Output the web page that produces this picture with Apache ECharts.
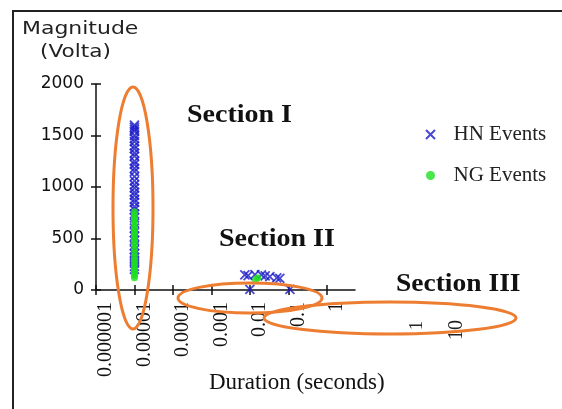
<!DOCTYPE html>
<html>
<head>
<meta charset="utf-8">
<script src="https://cdn.jsdelivr.net/npm/echarts@6/dist/echarts.min.js"></script>
<style>
html,body{margin:0;padding:0;background:#fff;}
#chart{width:562px;height:409px;}
</style>
</head>
<body>
<div id="chart"></div>
<script>
// ---- data (durations in seconds, magnitudes in volts) ----
const xTickValues = [0.000001, 0.00001, 0.0001, 0.001, 0.01, 0.1, 1];
const xTickLabels = ['0.000001', '0.00001', '0.0001', '0.001', '0.01', '0.1', '1'];
const strayTickLabels = ['1', '10'];
const yTicks = [0, 500, 1000, 1500, 2000];

const hnDuration = [
  0.00001,0.00001,0.00001,0.00001,0.00001,0.00001,0.00001,0.00001,0.00001,0.00001,
  0.00001,0.00001,0.00001,0.00001,0.00001,0.00001,0.00001,0.00001,0.00001,0.00001,
  0.00001,0.00001,0.00001,0.00001,0.00001,0.00001,0.00001,0.00001,0.00001,0.00001,
  0.00001,0.00001,0.00001,0.00001,0.00001,0.00001,0.00001,0.00001,0.00001,0.00001,
  0.0074,0.009,0.0135,0.02,0.025,0.033,0.05,0.06,0.01,0.11
];
const hnMagnitude = [
  1600,1580,1560,1540,1500,1470,1440,1400,1370,1330,
  1300,1250,1220,1180,1150,1100,1060,1020,990,950,
  920,880,850,810,780,740,700,650,600,560,
  520,480,430,390,350,320,290,260,230,200,
  146,140,150,146,138,130,118,112,5,5
];
const ngDuration = [
  0.00001,0.00001,0.00001,0.00001,0.00001,0.00001,0.00001,0.00001,0.00001,0.00001,
  0.00001,0.00001,0.00001,0.00001,0.00001,0.00001,0.00001,0.00001,0.00001,0.00001,
  0.00001,0.00001,0.00001,
  0.016,0.014
];
const ngMagnitude = [
  760,730,700,680,650,620,590,560,530,500,
  470,440,400,360,320,290,260,230,200,180,
  160,140,120,
  118,100
];
const seriesNames = ['HN Events', 'NG Events'];
const sectionLabels = ['Section I', 'Section II', 'Section III'];

const hnData = hnDuration.map((d, i) => [d, hnMagnitude[i]]);
const ngData = ngDuration.map((d, i) => [d, ngMagnitude[i]]);

const chart = echarts.init(document.getElementById('chart'), null, {renderer: 'canvas'});

const orange = '#ED7D31';
const serif = '"Liberation Serif", "Times New Roman", serif';
const sans = '"DejaVu Sans", Verdana, sans-serif';

const xAxisBase = {
  type: 'log', logBase: 10, min: 0.000001, max: 5.4,
  splitLine: {show: false}, minorTick: {show: false}
};
const yAxisBase = {
  type: 'value', min: 0, max: 2000, interval: 500, splitLine: {show: false}
};

chart.setOption({
  backgroundColor: '#ffffff',
  animation: false,
  grid: {left: 96, right: 207, top: 84, bottom: 119, containLabel: false},
  xAxis: [
    Object.assign({}, xAxisBase, {
      position: 'bottom',
      axisLine: {show: true, lineStyle: {color: '#111', width: 1.5}},
      axisTick: {show: true, inside: false, length: 5, customValues: xTickValues, lineStyle: {color: '#111', width: 1.5}},
      axisLabel: {
        show: true, rotate: 90, margin: 12, verticalAlign: 'top',
        customValues: xTickValues,
        formatter: (v) => {
          const i = xTickValues.findIndex(t => Math.abs(Math.log10(t) - Math.log10(v)) < 1e-6);
          return i >= 0 ? xTickLabels[i] : '';
        },
        fontFamily: serif, fontSize: 20, color: '#111'
      }
    }),
    Object.assign({}, xAxisBase, {
      position: 'bottom', offset: 0,
      axisLine: {show: false},
      axisTick: {show: true, inside: true, length: 5, customValues: xTickValues, lineStyle: {color: '#111', width: 1.5}},
      axisLabel: {show: false}
    })
  ],
  yAxis: [
    Object.assign({}, yAxisBase, {
      position: 'left',
      axisLine: {show: true, lineStyle: {color: '#111', width: 1.5}},
      axisTick: {show: true, inside: false, length: 5, lineStyle: {color: '#111', width: 1.5}},
      axisLabel: {margin: 12, fontFamily: sans, fontSize: 17, color: '#111',
        formatter: (v) => yTicks.includes(v) ? String(v) : ''}
    }),
    Object.assign({}, yAxisBase, {
      position: 'left', offset: 0,
      axisLine: {show: false},
      axisTick: {show: true, inside: true, length: 5, lineStyle: {color: '#111', width: 1.5}},
      axisLabel: {show: false}
    })
  ],
  legend: {
    orient: 'vertical', left: 420, top: 119, itemGap: 20, itemWidth: 36, itemHeight: 9,
    textStyle: {fontFamily: serif, fontSize: 21, color: '#222'},
    data: seriesNames
  },
  series: [
    {
      name: seriesNames[0], type: 'scatter', data: hnData,
      symbol: 'path://M0,0L10,10M10,0L0,10', symbolSize: 9,
      itemStyle: {color: 'rgba(0,0,0,0)', borderColor: '#1a1ac8', borderWidth: 1.8},
      z: 3
    },
    {
      name: seriesNames[1], type: 'scatter', data: ngData,
      symbol: 'circle', symbolSize: 7,
      itemStyle: {color: '#1ee01e'},
      z: 4
    }
  ],
  graphic: [
    {type: 'rect', shape: {x: 13, y: 11, width: 600, height: 450}, style: {fill: 'none', stroke: '#222', lineWidth: 2}, z: 0, silent: true},
    {type: 'text', left: 22, top: 20, scaleX: 1.22, style: {text: 'Magnitude', font: '18px ' + sans, fill: '#222'}, z: 10},
    {type: 'text', left: 40, top: 43, scaleX: 1.2, style: {text: '(Volta)', font: '18px ' + sans, fill: '#222'}, z: 10},
    {type: 'text', left: 187, top: 103, scaleX: 1.12, style: {text: sectionLabels[0], font: 'bold 25px ' + serif, fill: '#111'}, z: 10},
    {type: 'text', left: 219, top: 227, scaleX: 1.12, style: {text: sectionLabels[1], font: 'bold 25px ' + serif, fill: '#111'}, z: 10},
    {type: 'text', left: 396, top: 272, scaleX: 1.1, style: {text: sectionLabels[2], font: 'bold 25px ' + serif, fill: '#111'}, z: 10},
    {type: 'text', left: 209, top: 371, style: {text: 'Duration (seconds)', font: '23px ' + serif, fill: '#111'}, z: 10},
    {type: 'text', x: 408, y: 330, rotation: Math.PI / 2, style: {text: strayTickLabels[0], font: '18px ' + serif, fill: '#222', align: 'left', verticalAlign: 'top'}, z: 10},
    {type: 'text', x: 447, y: 340, rotation: Math.PI / 2, style: {text: strayTickLabels[1], font: '20px ' + serif, fill: '#222', align: 'left', verticalAlign: 'top'}, z: 10},
    {type: 'ellipse', shape: {cx: 133, cy: 208, rx: 20, ry: 121}, style: {fill: 'none', stroke: orange, lineWidth: 3}, z: 20},
    {type: 'ellipse', shape: {cx: 250, cy: 298, rx: 72, ry: 15}, style: {fill: 'none', stroke: orange, lineWidth: 3}, z: 20},
    {type: 'ellipse', shape: {cx: 390, cy: 318, rx: 126, ry: 16}, style: {fill: 'none', stroke: orange, lineWidth: 3}, z: 20}
  ]
});
</script>
</body>
</html>
